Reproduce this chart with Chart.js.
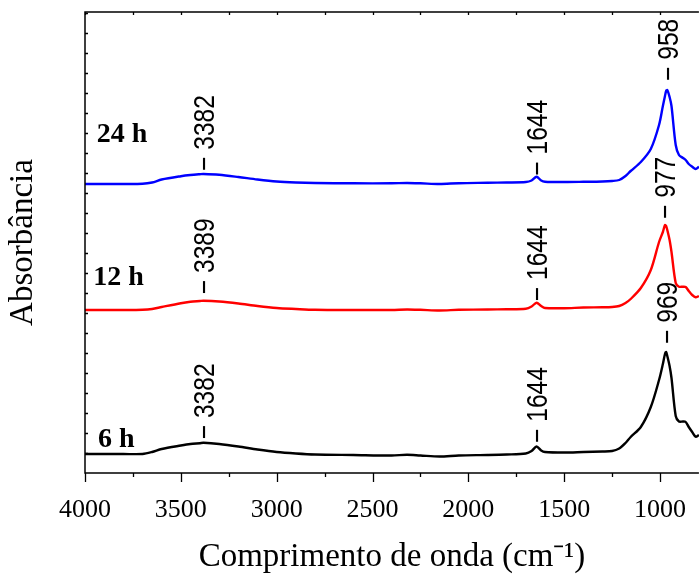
<!DOCTYPE html>
<html>
<head>
<meta charset="utf-8">
<script src="https://cdn.jsdelivr.net/npm/chart.js@4.4.1/dist/chart.umd.min.js"></script>
<style>
  html, body { margin: 0; padding: 0; background: #fff; }
  #wrap { width: 700px; height: 574px; position: relative; }
</style>
</head>
<body>
<div id="wrap"><canvas id="ftirChart"></canvas></div>
<script>
// número de onda (cm-1), eixo invertido
const wavenumbers = [4000, 3800, 3700, 3650, 3600, 3500, 3450, 3400, 3382, 3300, 3200, 3100, 3000, 2900, 2800, 2600,
  2400, 2320, 2250, 2150, 2050, 1900, 1800, 1700, 1670, 1644, 1620, 1600, 1500, 1400, 1300, 1250, 1213, 1180, 1153,
  1100, 1048, 1005, 985, 974, 968, 962, 950, 940, 918, 901, 880, 866, 850, 832, 814, 797];

// absorbância (unid. arb., já com deslocamento vertical)
const abs6h = [0.95, 0.95, 0.95, 1.05, 1.20, 1.375, 1.45, 1.49, 1.51, 1.45, 1.325, 1.175, 1.05, 0.975, 0.925, 0.90,
  0.875, 0.91, 0.875, 0.825, 0.875, 0.90, 0.925, 0.975, 1.10, 1.325, 1.125, 1.05, 1.025, 1.05, 1.075, 1.10, 1.225, 1.50, 1.80,
  2.30, 3.30, 4.65, 5.45, 5.95, 6.05, 5.85, 5.35, 4.75, 2.85, 2.575, 2.575, 2.55, 2.30, 2.05, 1.815, 1.90];

const abs12h = [8.15, 8.15, 8.16, 8.20, 8.30, 8.49, 8.56, 8.60, 8.615, 8.575, 8.475, 8.35, 8.25, 8.20, 8.16, 8.15,
  8.15, 8.175, 8.16, 8.125, 8.16, 8.175, 8.185, 8.21, 8.325, 8.515, 8.35, 8.25, 8.24, 8.275, 8.285, 8.30, 8.35, 8.50, 8.70,
  9.25, 10.15, 11.55, 12.05, 12.40, 12.35, 12.15, 11.65, 11.05, 9.50, 9.315, 9.315, 9.30, 9.10, 8.90, 8.785, 8.85];

const abs24h = [14.45, 14.45, 14.46, 14.525, 14.675, 14.84, 14.90, 14.94, 14.95, 14.91, 14.80, 14.675, 14.575, 14.525, 14.50, 14.485,
  14.485, 14.50, 14.485, 14.45, 14.49, 14.51, 14.525, 14.55, 14.625, 14.815, 14.625, 14.565, 14.55, 14.56, 14.575, 14.60, 14.65, 14.85, 15.10,
  15.55, 16.20, 17.40, 18.35, 18.85, 19.10, 19.15, 18.80, 18.35, 16.40, 15.90, 15.75, 15.65, 15.45, 15.315, 15.20, 15.315];

const seriesNames = ['6 h', '12 h', '24 h'];
const seriesColors = ['#000000', '#ff0000', '#0000ff'];
const xTickValues = [4000, 3500, 3000, 2500, 2000, 1500, 1000];

// marcações dos picos (série, ponto do pico, texto)
const peakMarks = [
  { series: 2, at: 3382, text: '3382', gap: 3 },
  { series: 2, at: 1644, text: '1644', gap: 1 },
  { series: 2, at: 962, text: '958', gap: 9 },
  { series: 1, at: 3382, text: '3389', gap: 6.5 },
  { series: 1, at: 1644, text: '1644', gap: 1.5 },
  { series: 1, at: 974, text: '977', gap: 6 },
  { series: 0, at: 3382, text: '3382', gap: 3.5 },
  { series: 0, at: 1644, text: '1644', gap: 3.5 },
  { series: 0, at: 968, text: '969', gap: 8 }
];

// rótulos das séries (posição em coordenadas dos dados)
const seriesTags = [
  { series: 0, x: 3932, y: 1.3 },
  { series: 1, x: 3957, y: 9.4 },
  { series: 2, x: 3939, y: 16.57 }
];

const SERIF = "'Liberation Serif', 'Times New Roman', serif";
const SANS = "'Liberation Sans', Arial, sans-serif";

const ftirDecor = {
  id: 'ftirDecor',
  afterDatasetsDraw(chart) {
    const { ctx, chartArea: a, scales: { x, y } } = chart;
    ctx.save();
    ctx.strokeStyle = '#000';
    ctx.lineWidth = 1.5;

    // moldura: esquerda, topo, base
    ctx.beginPath();
    ctx.moveTo(a.right, a.top);
    ctx.lineTo(a.left, a.top);
    ctx.lineTo(a.left, a.bottom);
    ctx.lineTo(a.right, a.bottom);
    ctx.stroke();

    // ticks do eixo x (maiores e menores)
    ctx.lineWidth = 1.3;
    ctx.beginPath();
    for (let v = 1000; v <= 4000; v += 250) {
      const px = Math.round(x.getPixelForValue(v)) + 0.5;
      const major = v % 500 === 0;
      ctx.moveTo(px, a.bottom);
      ctx.lineTo(px, a.bottom + (major ? 9 : 4));
      ctx.moveTo(px, a.top);
      ctx.lineTo(px, a.top + 3);
    }
    // ticks do eixo y (sem rótulos)
    for (let v = 1; v <= 23; v++) {
      const py = Math.round(y.getPixelForValue(v)) + 0.5;
      ctx.moveTo(a.left, py);
      ctx.lineTo(a.left + 3, py);
    }
    ctx.stroke();

    // números dos picos, na vertical
    ctx.fillStyle = '#000';
    ctx.font = '30px ' + SANS;
    ctx.textAlign = 'left';
    ctx.textBaseline = 'alphabetic';
    peakMarks.forEach(m => {
      const idx = wavenumbers.indexOf(m.at);
      const ds = chart.data.datasets[m.series];
      const px = x.getPixelForValue(m.at);
      const py = y.getPixelForValue(ds.data[idx].y);
      ctx.save();
      ctx.translate(px, py - m.gap);
      ctx.rotate(-Math.PI / 2);
      ctx.scale(0.82, 1);
      ctx.fillText('\u2212 ' + m.text, 0, 10.5);
      ctx.restore();
    });

    // nomes das séries
    ctx.font = 'bold 28px ' + SERIF;
    seriesTags.forEach(t => {
      ctx.fillText(seriesNames[t.series], x.getPixelForValue(t.x), y.getPixelForValue(t.y));
    });
    ctx.restore();
  }
};

function buildDatasets() {
  const all = [abs6h, abs12h, abs24h];
  return all.map((vals, i) => ({
    label: seriesNames[i],
    data: wavenumbers.map((w, k) => ({ x: w, y: vals[k] })),
    borderColor: seriesColors[i],
    borderWidth: 2.4,
    pointRadius: 0,
    fill: false,
    tension: 0.3
  }));
}

document.addEventListener('DOMContentLoaded', () => {
  const ctx = document.getElementById('ftirChart');
  new Chart(ctx, {
    type: 'line',
    data: { datasets: buildDatasets() },
    options: {
      responsive: true,
      maintainAspectRatio: false,
      animation: false,
      layout: { padding: { top: 12, right: 0, bottom: 0, left: 0 } },
      plugins: {
        legend: { display: false },
        tooltip: { enabled: false }
      },
      scales: {
        x: {
          type: 'linear',
          reverse: true,
          min: 797,
          max: 4000,
          afterBuildTicks: s => { s.ticks = xTickValues.map(v => ({ value: v })); },
          afterFit: s => { s.height = 101; },
          grid: { display: false },
          border: { display: false },
          ticks: {
            color: '#000',
            font: { family: SERIF, size: 26 },
            padding: 14,
            maxRotation: 0,
            autoSkip: false,
            callback: v => String(v)
          },
          title: {
            display: true,
            text: 'Comprimento de onda (cm\u207B\u00B9)',
            color: '#000',
            font: { family: SERIF, size: 33, lineHeight: 1.0 },
            padding: { top: 0, bottom: 0 }
          }
        },
        y: {
          min: 0,
          max: 23.05,
          afterFit: s => { s.width = 85; },
          grid: { display: false },
          border: { display: false },
          ticks: { display: false },
          title: {
            display: true,
            text: 'Absorbância',
            color: '#000',
            font: { family: SERIF, size: 33 },
            padding: { top: 4, bottom: 4 }
          }
        }
      }
    },
    plugins: [ftirDecor]
  });
});
</script>
</body>
</html>
